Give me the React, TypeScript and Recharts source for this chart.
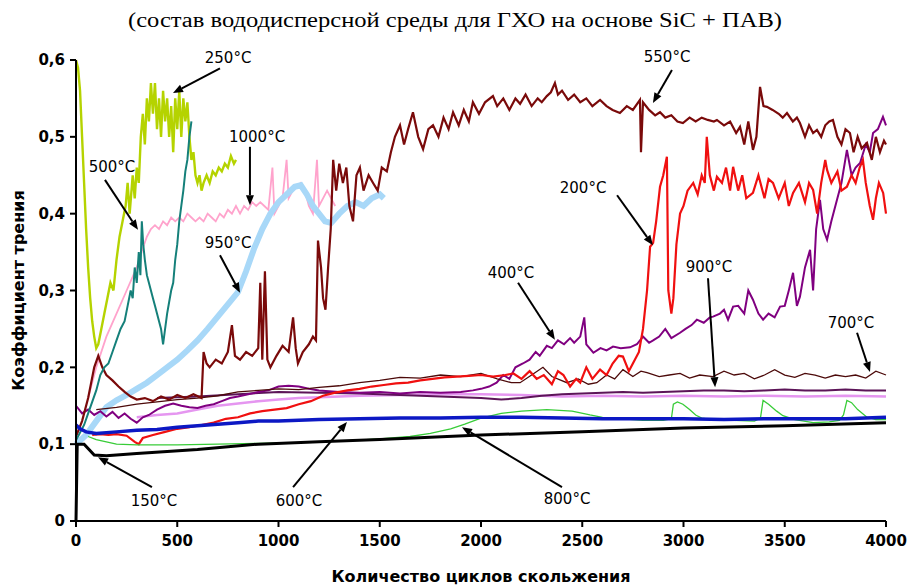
import React from "react";
import {
  LineChart,
  Line,
  XAxis,
  YAxis,
  ReferenceLine,
  ReferenceDot,
} from "recharts";

// friction coefficient vs sliding cycles, one array per test temperature
const s250 = [[0,0.6],[10,0.59],[20,0.56],[30,0.5],[40,0.44],[50,0.38],[60,0.33],[70,0.29],[80,0.26],[90,0.24],[100,0.225],[110,0.23],[125,0.25],[140,0.27],[155,0.29],[170,0.31],[185,0.3],[200,0.34],[215,0.37],[230,0.39],[245,0.41],[255,0.44],[265,0.4],[280,0.45],[290,0.42],[300,0.46],[310,0.44],[320,0.5],[330,0.53],[340,0.49],[350,0.55],[360,0.52],[370,0.57],[380,0.53],[390,0.57],[400,0.51],[410,0.55],[420,0.5],[430,0.56],[440,0.52],[450,0.55],[460,0.5],[470,0.54],[480,0.48],[490,0.55],[500,0.51],[510,0.56],[520,0.5],[530,0.55],[540,0.52],[550,0.545],[560,0.5],[570,0.47],[580,0.48],[590,0.45],[600,0.44],[610,0.45],[620,0.43],[630,0.44],[645,0.45],[660,0.44],[675,0.455],[690,0.45],[705,0.46],[720,0.455],[735,0.465],[750,0.46],[765,0.475],[780,0.465],[790,0.47]];
const s500 = [[0,0.105],[20,0.115],[40,0.125],[60,0.14],[80,0.155],[100,0.17],[120,0.19],[140,0.2],[160,0.205],[180,0.22],[200,0.235],[220,0.25],[240,0.26],[255,0.28],[270,0.3],[280,0.29],[290,0.33],[300,0.31],[310,0.35],[318,0.32],[325,0.39],[332,0.36],[340,0.34],[350,0.32],[360,0.31],[370,0.3],[380,0.29],[390,0.28],[400,0.27],[410,0.26],[420,0.25],[430,0.23],[440,0.25],[450,0.27],[460,0.285],[470,0.3],[480,0.31],[490,0.34],[500,0.36],[510,0.39],[520,0.41],[530,0.43],[540,0.455],[550,0.47],[560,0.5],[570,0.52]];
const s1000 = [[60,0.16],[100,0.2],[150,0.24],[200,0.27],[250,0.3],[300,0.33],[330,0.355],[350,0.37],[370,0.38],[390,0.385],[410,0.38],[430,0.39],[450,0.385],[470,0.395],[490,0.39],[510,0.395],[530,0.39],[550,0.4],[570,0.395],[590,0.39],[610,0.395],[630,0.39],[650,0.4],[670,0.395],[690,0.39],[710,0.4],[730,0.395],[750,0.405],[770,0.4],[790,0.41],[810,0.4],[830,0.41],[850,0.405],[870,0.415],[890,0.41],[910,0.415],[930,0.41],[950,0.405],[970,0.46],[980,0.4],[1000,0.41],[1020,0.42],[1040,0.47],[1050,0.42],[1070,0.43],[1090,0.435],[1110,0.44],[1130,0.43],[1150,0.41],[1170,0.4],[1190,0.47],[1200,0.41],[1220,0.42],[1240,0.43],[1260,0.42],[1280,0.41]];
const s950 = [[0,0.1],[50,0.112],[100,0.13],[150,0.148],[200,0.157],[250,0.164],[300,0.172],[350,0.18],[400,0.19],[450,0.2],[500,0.21],[550,0.222],[600,0.235],[650,0.25],[700,0.266],[750,0.282],[800,0.298],[840,0.325],[880,0.355],[920,0.38],[960,0.4],[1000,0.415],[1040,0.425],[1080,0.435],[1110,0.437],[1140,0.425],[1170,0.41],[1200,0.4],[1230,0.39],[1260,0.388],[1300,0.4],[1340,0.41],[1380,0.415],[1420,0.41],[1460,0.42],[1500,0.425],[1520,0.42]];
const s550 = [[0,0.11],[30,0.13],[60,0.16],[90,0.2],[110,0.215],[130,0.2],[150,0.19],[180,0.183],[210,0.175],[240,0.168],[270,0.162],[300,0.158],[340,0.16],[380,0.156],[420,0.162],[460,0.158],[500,0.164],[540,0.16],[580,0.165],[620,0.16],[630,0.22],[645,0.205],[660,0.2],[690,0.21],[720,0.205],[750,0.22],[770,0.255],[785,0.215],[810,0.21],[840,0.22],[870,0.215],[900,0.225],[910,0.31],[920,0.21],[933,0.325],[945,0.21],[960,0.2],[990,0.215],[1020,0.228],[1050,0.22],[1072,0.265],[1085,0.225],[1096,0.205],[1120,0.22],[1150,0.23],[1170,0.24],[1185,0.235],[1195,0.365],[1210,0.33],[1220,0.29],[1232,0.275],[1245,0.33],[1258,0.38],[1270,0.47],[1285,0.43],[1300,0.465],[1318,0.44],[1335,0.46],[1350,0.41],[1368,0.39],[1385,0.45],[1402,0.46],[1420,0.43],[1445,0.45],[1467,0.44],[1490,0.43],[1510,0.46],[1535,0.455],[1555,0.48],[1575,0.5],[1600,0.515],[1620,0.49],[1640,0.51],[1664,0.532],[1690,0.5],[1714,0.484],[1740,0.51],[1763,0.515],[1790,0.5],[1815,0.525],[1840,0.51],[1862,0.532],[1890,0.515],[1915,0.535],[1940,0.52],[1960,0.545],[1990,0.53],[2020,0.545],[2059,0.553],[2080,0.54],[2110,0.55],[2140,0.535],[2170,0.55],[2193,0.543],[2220,0.555],[2250,0.54],[2280,0.55],[2300,0.545],[2325,0.553],[2345,0.558],[2365,0.57],[2380,0.555],[2400,0.56],[2430,0.548],[2460,0.555],[2490,0.545],[2520,0.55],[2550,0.54],[2588,0.548],[2620,0.54],[2650,0.535],[2686,0.531],[2720,0.54],[2750,0.535],[2785,0.548],[2790,0.48],[2800,0.545],[2830,0.535],[2860,0.528],[2884,0.532],[2910,0.525],[2940,0.528],[2970,0.52],[2997,0.518],[3030,0.525],[3060,0.52],[3090,0.525],[3120,0.522],[3150,0.52],[3165,0.522],[3200,0.515],[3230,0.52],[3260,0.505],[3279,0.513],[3300,0.49],[3320,0.52],[3343,0.483],[3360,0.5],[3378,0.565],[3395,0.54],[3412,0.539],[3440,0.535],[3470,0.53],[3490,0.525],[3511,0.531],[3540,0.52],[3560,0.525],[3575,0.518],[3600,0.5],[3620,0.515],[3640,0.505],[3659,0.509],[3680,0.5],[3700,0.515],[3720,0.52],[3738,0.522],[3760,0.5],[3780,0.49],[3800,0.51],[3822,0.505],[3840,0.48],[3860,0.5],[3880,0.485],[3906,0.492],[3930,0.47],[3950,0.5],[3970,0.48],[3990,0.495],[4000,0.49]];
const s700 = [[100,0.145],[200,0.148],[300,0.152],[400,0.155],[500,0.158],[600,0.16],[700,0.163],[800,0.168],[900,0.17],[1000,0.172],[1100,0.171],[1200,0.174],[1300,0.176],[1400,0.18],[1500,0.183],[1600,0.187],[1700,0.186],[1800,0.19],[1900,0.188],[2000,0.192],[2080,0.185],[2150,0.18],[2193,0.18],[2250,0.19],[2306,0.2],[2350,0.188],[2424,0.18],[2480,0.185],[2530,0.178],[2572,0.18],[2620,0.19],[2660,0.185],[2701,0.197],[2750,0.188],[2790,0.195],[2820,0.193],[2880,0.188],[2930,0.19],[2983,0.192],[3030,0.186],[3080,0.19],[3146,0.188],[3200,0.195],[3250,0.19],[3300,0.192],[3350,0.185],[3400,0.19],[3450,0.197],[3500,0.19],[3550,0.187],[3600,0.192],[3650,0.19],[3700,0.186],[3750,0.19],[3800,0.188],[3850,0.19],[3900,0.186],[3950,0.195],[4000,0.19]];
const s200 = [[80,0.112],[120,0.113],[160,0.112],[200,0.113],[250,0.111],[290,0.103],[310,0.1],[330,0.108],[380,0.112],[440,0.116],[500,0.12],[560,0.122],[620,0.125],[680,0.128],[740,0.133],[800,0.135],[860,0.14],[920,0.143],[980,0.145],[1040,0.147],[1100,0.152],[1160,0.156],[1220,0.163],[1280,0.167],[1340,0.17],[1400,0.172],[1460,0.175],[1520,0.177],[1580,0.179],[1640,0.18],[1700,0.183],[1760,0.185],[1820,0.187],[1880,0.188],[1940,0.189],[2000,0.19],[2060,0.188],[2120,0.19],[2160,0.192],[2200,0.185],[2240,0.195],[2275,0.185],[2310,0.19],[2350,0.178],[2380,0.195],[2407,0.19],[2440,0.175],[2470,0.185],[2490,0.18],[2520,0.2],[2550,0.185],[2588,0.197],[2620,0.19],[2650,0.205],[2680,0.215],[2701,0.214],[2730,0.195],[2750,0.205],[2780,0.22],[2800,0.25],[2820,0.3],[2835,0.357],[2850,0.362],[2865,0.39],[2884,0.435],[2900,0.45],[2918,0.474],[2925,0.3],[2940,0.27],[2950,0.29],[2965,0.36],[2983,0.4],[3000,0.41],[3020,0.43],[3048,0.44],[3070,0.425],[3090,0.45],[3105,0.44],[3115,0.5],[3130,0.45],[3150,0.43],[3165,0.448],[3190,0.44],[3210,0.46],[3230,0.43],[3245,0.461],[3270,0.43],[3290,0.45],[3310,0.42],[3343,0.427],[3370,0.45],[3400,0.42],[3420,0.445],[3442,0.44],[3470,0.42],[3500,0.44],[3520,0.41],[3541,0.427],[3570,0.44],[3600,0.415],[3620,0.44],[3640,0.431],[3660,0.4],[3680,0.44],[3700,0.47],[3709,0.457],[3730,0.44],[3760,0.455],[3780,0.43],[3807,0.435],[3830,0.45],[3850,0.44],[3870,0.46],[3886,0.47],[3900,0.44],[3920,0.41],[3936,0.392],[3950,0.42],[3965,0.44],[3986,0.427],[4000,0.4]];
const s400 = [[0,0.15],[30,0.14],[60,0.145],[90,0.138],[120,0.143],[150,0.136],[180,0.142],[210,0.134],[240,0.14],[270,0.133],[300,0.128],[330,0.135],[360,0.138],[400,0.145],[440,0.15],[480,0.153],[520,0.15],[560,0.148],[600,0.147],[640,0.15],[680,0.152],[720,0.156],[760,0.16],[800,0.162],[850,0.165],[900,0.168],[950,0.17],[1000,0.175],[1050,0.176],[1100,0.175],[1150,0.172],[1200,0.17],[1300,0.168],[1400,0.167],[1500,0.168],[1600,0.166],[1700,0.168],[1800,0.167],[1900,0.168],[1960,0.17],[2000,0.172],[2040,0.175],[2077,0.18],[2110,0.19],[2140,0.185],[2170,0.2],[2207,0.205],[2240,0.21],[2270,0.22],[2290,0.215],[2325,0.228],[2350,0.225],[2380,0.235],[2410,0.23],[2440,0.238],[2460,0.232],[2490,0.24],[2510,0.265],[2520,0.23],[2555,0.219],[2590,0.225],[2620,0.222],[2652,0.227],[2690,0.225],[2736,0.226],[2770,0.23],[2800,0.24],[2830,0.232],[2850,0.235],[2880,0.24],[2910,0.25],[2940,0.238],[2983,0.245],[3010,0.25],[3040,0.255],[3066,0.262],[3100,0.258],[3130,0.265],[3146,0.266],[3180,0.27],[3200,0.275],[3220,0.262],[3245,0.279],[3270,0.28],[3300,0.27],[3320,0.3],[3343,0.288],[3370,0.27],[3393,0.262],[3420,0.27],[3450,0.265],[3477,0.279],[3500,0.28],[3520,0.3],[3541,0.323],[3560,0.28],[3575,0.292],[3600,0.33],[3625,0.353],[3640,0.3],[3655,0.38],[3674,0.418],[3690,0.38],[3709,0.366],[3730,0.39],[3758,0.418],[3780,0.44],[3807,0.483],[3830,0.45],[3850,0.46],[3872,0.466],[3900,0.49],[3920,0.48],[3936,0.505],[3960,0.51],[3985,0.526],[4000,0.515]];
const s900 = [[400,0.16],[600,0.162],[800,0.165],[1000,0.168],[1200,0.167],[1400,0.166],[1600,0.164],[1800,0.162],[2000,0.16],[2100,0.158],[2200,0.16],[2300,0.163],[2400,0.165],[2500,0.166],[2600,0.167],[2700,0.168],[2800,0.167],[2900,0.168],[3000,0.169],[3100,0.17],[3200,0.17],[3300,0.169],[3400,0.17],[3500,0.171],[3600,0.17],[3700,0.17],[3800,0.171],[3900,0.17],[4000,0.17]];
const sViolet = [[300,0.135],[400,0.138],[500,0.14],[600,0.145],[700,0.15],[800,0.153],[900,0.156],[1000,0.158],[1100,0.16],[1200,0.161],[1300,0.162],[1400,0.163],[1600,0.164],[1800,0.165],[2000,0.165],[2200,0.164],[2400,0.162],[2600,0.163],[2800,0.162],[3000,0.163],[3200,0.162],[3400,0.163],[3600,0.162],[3800,0.163],[4000,0.162]];
const s600 = [[0,0.125],[20,0.12],[50,0.116],[100,0.114],[200,0.116],[300,0.118],[400,0.119],[500,0.122],[600,0.124],[700,0.126],[800,0.128],[900,0.13],[1000,0.13],[1200,0.132],[1400,0.133],[1600,0.134],[1800,0.134],[2000,0.135],[2200,0.135],[2400,0.134],[2600,0.133],[2800,0.133],[3000,0.133],[3200,0.132],[3400,0.133],[3600,0.133],[3800,0.133],[4000,0.135]];
const s800 = [[60,0.11],[100,0.106],[150,0.103],[200,0.1],[300,0.099],[500,0.099],[700,0.1],[900,0.101],[1100,0.102],[1300,0.104],[1500,0.107],[1650,0.11],[1750,0.114],[1850,0.12],[1920,0.126],[2000,0.134],[2100,0.14],[2200,0.143],[2325,0.145],[2450,0.143],[2538,0.138],[2600,0.135],[2700,0.133],[2800,0.131],[2900,0.131],[2940,0.133],[2950,0.152],[2970,0.155],[2997,0.152],[3030,0.145],[3060,0.138],[3090,0.134],[3150,0.132],[3250,0.131],[3350,0.13],[3380,0.134],[3393,0.157],[3420,0.152],[3460,0.143],[3491,0.137],[3550,0.132],[3640,0.128],[3720,0.129],[3770,0.131],[3790,0.138],[3807,0.157],[3830,0.154],[3860,0.145],[3906,0.135],[3950,0.132],[4000,0.132]];
const s150 = [[0,0],[6,0.1],[40,0.1],[90,0.086],[150,0.085],[300,0.088],[600,0.093],[900,0.1],[1200,0.103],[1500,0.106],[2000,0.112],[2500,0.116],[3000,0.121],[3500,0.124],[4000,0.128]];

const xTicks = [0, 500, 1000, 1500, 2000, 2500, 3000, 3500, 4000];
const yTicks = [0, 0.1, 0.2, 0.3, 0.4, 0.5, 0.6];

// callouts: text, text centre, arrow tail, arrow head
const labels = ["250°C", "550°C", "1000°C", "500°C", "950°C", "200°C", "900°C", "400°C", "700°C", "150°C", "600°C", "800°C"];
const labelPos = [[751,0.603],[2919,0.604],[894,0.5],[178,0.461],[751,0.362],[2504,0.434],[3126,0.331],[2148,0.323],[3827,0.258],[385,0.027],[1101,0.027],[2425,0.029]];
const arrowFrom = [[711,0.589],[2943,0.587],[859,0.487],[143,0.444],[711,0.346],[2672,0.424],[3121,0.316],[2183,0.31],[3857,0.245],[375,0.044],[1072,0.044],[2400,0.044]];
const arrowTo = [[479,0.557],[2849,0.544],[859,0.411],[306,0.379],[810,0.297],[2849,0.359],[3156,0.174],[2365,0.236],[3921,0.194],[109,0.083],[1338,0.129],[1906,0.122]];

const pts = (arr: number[][]) => arr.map(([x, y]) => ({ x, y }));

const series = [
  { data: s1000, color: "#ffa3cc", w: 1.8 },
  { data: s950, color: "#a8d8f8", w: 6 },
  { data: sViolet, color: "#e596f0", w: 2.5 },
  { data: s900, color: "#5c1458", w: 2 },
  { data: s400, color: "#800080", w: 2 },
  { data: s700, color: "#4c0a0a", w: 1.3 },
  { data: s550, color: "#7a0a0a", w: 2.2 },
  { data: s200, color: "#f01010", w: 2.2 },
  { data: s250, color: "#b5d300", w: 2.4 },
  { data: s500, color: "#15807a", w: 2 },
  { data: s800, color: "#38cc38", w: 1.3 },
  { data: s600, color: "#0c18c4", w: 3.5 },
  { data: s150, color: "#000000", w: 3 },
];

const Arrow = (p: any) => {
  const { x1, y1, x2, y2 } = p;
  const a = Math.atan2(y2 - y1, x2 - x1);
  const L = 10;
  const W = 4;
  const bx = x2 - L * Math.cos(a);
  const by = y2 - L * Math.sin(a);
  const nx = -Math.sin(a) * W;
  const ny = Math.cos(a) * W;
  return (
    <g>
      <line x1={x1} y1={y1} x2={bx} y2={by} stroke="#000" strokeWidth={2} />
      <polygon points={`${x2},${y2} ${bx + nx},${by + ny} ${bx - nx},${by - ny}`} fill="#000" />
    </g>
  );
};

const fmtY = (v: number) => (v === 0 ? "0" : v.toFixed(1).replace(".", ","));

export default function App() {
  const tickStyle = { fill: "#000", fontSize: 15, fontWeight: "bold", fontFamily: "DejaVu Sans" };
  return (
    <div style={{ position: "absolute", left: 0, top: 0, width: 909, height: 588, background: "#fff" }}>
      <svg width={909} height={45} style={{ position: "absolute", left: 0, top: 0 }}>
        <text x={455} y={27} textAnchor="middle" fontFamily="Liberation Serif" fontSize={20} textLength={654} lengthAdjust="spacingAndGlyphs" fill="#000">
          (состав вододисперсной среды для ГХО на основе SiC + ПАВ)
        </text>
      </svg>
      <LineChart width={909} height={588} margin={{ top: 60, right: 23, bottom: 27, left: 0 }}>
        <XAxis
          dataKey="x"
          type="number"
          domain={[0, 4000]}
          ticks={xTicks}
          height={40}
          tickSize={6}
          tickMargin={8}
          axisLine={{ stroke: "#000", strokeWidth: 2 }}
          tickLine={{ stroke: "#000", strokeWidth: 2 }}
          tick={tickStyle}
          label={{ value: "Количество циклов скольжения", position: "bottom", offset: 10, fill: "#000", fontSize: 16, fontWeight: "bold", fontFamily: "DejaVu Sans" }}
        />
        <YAxis
          type="number"
          domain={[0, 0.6]}
          ticks={yTicks}
          width={76}
          tickSize={6}
          tickMargin={5}
          tickFormatter={fmtY}
          axisLine={{ stroke: "#000", strokeWidth: 2 }}
          tickLine={{ stroke: "#000", strokeWidth: 2 }}
          tick={tickStyle}
          label={{ value: "Коэффициент трения", angle: -90, position: "insideLeft", offset: 18, fill: "#000", fontSize: 16, fontWeight: "bold", fontFamily: "DejaVu Sans", style: { textAnchor: "middle" } }}
        />
        {series.map((s, i) => (
          <Line
            key={i}
            data={pts(s.data)}
            dataKey="y"
            type="linear"
            stroke={s.color}
            strokeWidth={s.w}
            dot={false}
            activeDot={false}
            isAnimationActive={false}
          />
        ))}
        {labels.map((t, i) => (
          <ReferenceLine
            key={"a" + i}
            segment={[
              { x: arrowFrom[i][0], y: arrowFrom[i][1] },
              { x: arrowTo[i][0], y: arrowTo[i][1] },
            ]}
            ifOverflow="visible"
            shape={(p: any) => <Arrow {...p} />}
          />
        ))}
        {labels.map((t, i) => (
          <ReferenceDot
            key={"t" + i}
            x={labelPos[i][0]}
            y={labelPos[i][1]}
            r={1}
            fill="none"
            stroke="none"
            ifOverflow="visible"
            label={{ value: t, position: "center", fill: "#000", fontSize: 15, fontFamily: "DejaVu Sans" }}
          />
        ))}
      </LineChart>
    </div>
  );
}
